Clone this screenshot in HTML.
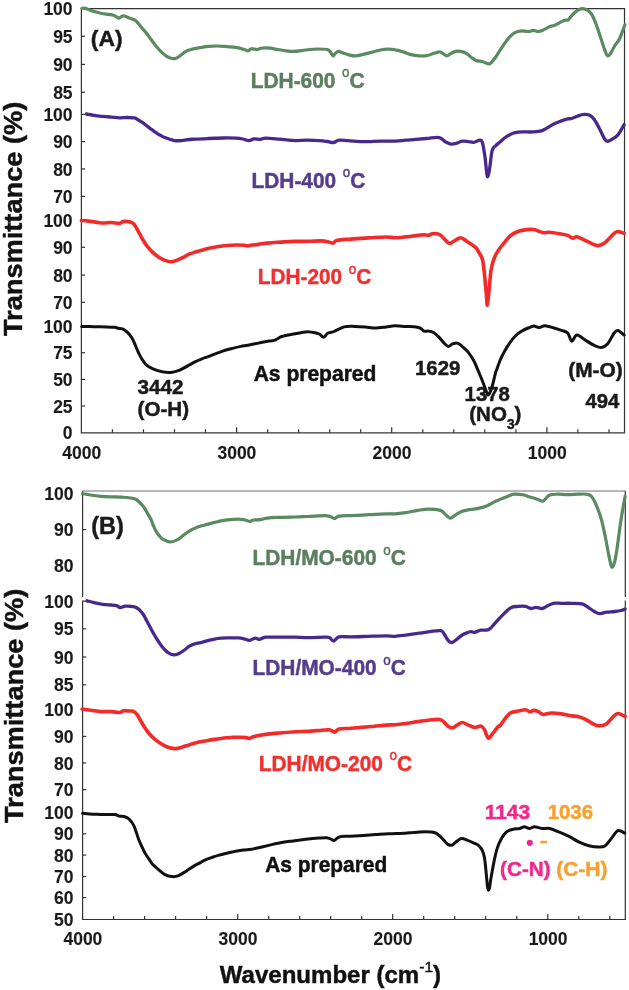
<!DOCTYPE html><html><head><meta charset="utf-8"><style>html,body{margin:0;padding:0;background:#fff;overflow:hidden;width:629px;height:990px;}svg{display:block;will-change:transform;}text{font-family:"Liberation Sans", sans-serif;font-weight:bold;stroke-width:0.45px;}.tl text{stroke-width:0.12px;}</style></head><body>
<svg width="629" height="990" viewBox="0 0 629 990">
<rect width="629" height="990" fill="#fff"/>
<g stroke="#333333" stroke-width="1.2" fill="none">
<line x1="81.4" y1="8.4" x2="81.4" y2="432.8"/>
<line x1="624.5" y1="8.4" x2="624.5" y2="432.8"/>
<line x1="80.8" y1="8.6" x2="625.1" y2="8.6"/>
<line x1="80.8" y1="432.8" x2="625.1" y2="432.8"/>
<line x1="81.4" y1="36.2" x2="85.0" y2="36.2"/>
<line x1="81.4" y1="64.4" x2="85.0" y2="64.4"/>
<line x1="81.4" y1="92.2" x2="85.0" y2="92.2"/>
<line x1="81.4" y1="114.4" x2="85.0" y2="114.4"/>
<line x1="81.4" y1="141.6" x2="85.0" y2="141.6"/>
<line x1="81.4" y1="168.9" x2="85.0" y2="168.9"/>
<line x1="81.4" y1="196.4" x2="85.0" y2="196.4"/>
<line x1="81.4" y1="220.6" x2="85.0" y2="220.6"/>
<line x1="81.4" y1="247.3" x2="85.0" y2="247.3"/>
<line x1="81.4" y1="275.1" x2="85.0" y2="275.1"/>
<line x1="81.4" y1="302.3" x2="85.0" y2="302.3"/>
<line x1="81.4" y1="326.2" x2="85.0" y2="326.2"/>
<line x1="81.4" y1="352.7" x2="85.0" y2="352.7"/>
<line x1="81.4" y1="379.4" x2="85.0" y2="379.4"/>
<line x1="81.4" y1="406.0" x2="85.0" y2="406.0"/>
<line x1="112.4" y1="432.8" x2="112.4" y2="429.2"/>
<line x1="143.5" y1="432.8" x2="143.5" y2="429.2"/>
<line x1="174.5" y1="432.8" x2="174.5" y2="429.2"/>
<line x1="205.5" y1="432.8" x2="205.5" y2="429.2"/>
<line x1="236.6" y1="432.8" x2="236.6" y2="427.2"/>
<line x1="267.6" y1="432.8" x2="267.6" y2="429.2"/>
<line x1="298.6" y1="432.8" x2="298.6" y2="429.2"/>
<line x1="329.7" y1="432.8" x2="329.7" y2="429.2"/>
<line x1="360.7" y1="432.8" x2="360.7" y2="429.2"/>
<line x1="391.7" y1="432.8" x2="391.7" y2="427.2"/>
<line x1="422.8" y1="432.8" x2="422.8" y2="429.2"/>
<line x1="453.8" y1="432.8" x2="453.8" y2="429.2"/>
<line x1="484.8" y1="432.8" x2="484.8" y2="429.2"/>
<line x1="515.9" y1="432.8" x2="515.9" y2="429.2"/>
<line x1="546.9" y1="432.8" x2="546.9" y2="427.2"/>
<line x1="577.9" y1="432.8" x2="577.9" y2="429.2"/>
<line x1="609.0" y1="432.8" x2="609.0" y2="429.2"/>
</g>
<g font-size="17.5" fill="#1a1a1a" stroke="#1a1a1a" text-anchor="end" class="tl">
<text x="72.6" y="15.0">100</text>
<text x="72.6" y="42.8">95</text>
<text x="72.6" y="71.0">90</text>
<text x="72.6" y="98.8">85</text>
<text x="72.6" y="121.0">100</text>
<text x="72.6" y="148.2">90</text>
<text x="72.6" y="175.5">80</text>
<text x="72.6" y="203.0">70</text>
<text x="72.6" y="227.2">100</text>
<text x="72.6" y="253.9">90</text>
<text x="72.6" y="281.7">80</text>
<text x="72.6" y="308.9">70</text>
<text x="72.6" y="332.8">100</text>
<text x="72.6" y="359.3">75</text>
<text x="72.6" y="386.0">50</text>
<text x="72.6" y="412.6">25</text>
<text x="72.6" y="439.3">0</text>
</g>
<g font-size="17.5" fill="#1a1a1a" stroke="#1a1a1a" text-anchor="middle" class="tl">
<text x="81.7" y="458.7">4000</text>
<text x="236.9" y="458.7">3000</text>
<text x="392.0" y="458.7">2000</text>
<text x="547.2" y="458.7">1000</text>
</g>
<g stroke="#333333" stroke-width="1.2" fill="none">
<line x1="82.6" y1="490.9" x2="82.6" y2="597.0"/>
<line x1="625.3" y1="490.9" x2="625.3" y2="597.0"/>
<line x1="82.6" y1="600.6" x2="82.6" y2="919.5"/>
<line x1="625.3" y1="600.6" x2="625.3" y2="919.5"/>
<line x1="82.0" y1="491.0" x2="625.9" y2="491.0" stroke="#707070"/>
<line x1="82.0" y1="919.5" x2="625.9" y2="919.5"/>
<line x1="82.6" y1="529.6" x2="86.2" y2="529.6"/>
<line x1="82.6" y1="601.2" x2="86.2" y2="601.2"/>
<line x1="82.6" y1="628.8" x2="86.2" y2="628.8"/>
<line x1="82.6" y1="657.0" x2="86.2" y2="657.0"/>
<line x1="82.6" y1="684.8" x2="86.2" y2="684.8"/>
<line x1="82.6" y1="709.2" x2="86.2" y2="709.2"/>
<line x1="82.6" y1="736.4" x2="86.2" y2="736.4"/>
<line x1="82.6" y1="763.0" x2="86.2" y2="763.0"/>
<line x1="82.6" y1="789.7" x2="86.2" y2="789.7"/>
<line x1="82.6" y1="812.7" x2="86.2" y2="812.7"/>
<line x1="82.6" y1="833.8" x2="86.2" y2="833.8"/>
<line x1="82.6" y1="855.1" x2="86.2" y2="855.1"/>
<line x1="82.6" y1="876.5" x2="86.2" y2="876.5"/>
<line x1="82.6" y1="897.6" x2="86.2" y2="897.6"/>
<line x1="113.6" y1="919.5" x2="113.6" y2="915.9"/>
<line x1="144.6" y1="919.5" x2="144.6" y2="915.9"/>
<line x1="175.6" y1="919.5" x2="175.6" y2="915.9"/>
<line x1="206.6" y1="919.5" x2="206.6" y2="915.9"/>
<line x1="237.7" y1="919.5" x2="237.7" y2="913.9"/>
<line x1="268.7" y1="919.5" x2="268.7" y2="915.9"/>
<line x1="299.7" y1="919.5" x2="299.7" y2="915.9"/>
<line x1="330.7" y1="919.5" x2="330.7" y2="915.9"/>
<line x1="361.7" y1="919.5" x2="361.7" y2="915.9"/>
<line x1="392.7" y1="919.5" x2="392.7" y2="913.9"/>
<line x1="423.7" y1="919.5" x2="423.7" y2="915.9"/>
<line x1="454.7" y1="919.5" x2="454.7" y2="915.9"/>
<line x1="485.7" y1="919.5" x2="485.7" y2="915.9"/>
<line x1="516.8" y1="919.5" x2="516.8" y2="915.9"/>
<line x1="547.8" y1="919.5" x2="547.8" y2="913.9"/>
<line x1="578.8" y1="919.5" x2="578.8" y2="915.9"/>
<line x1="609.8" y1="919.5" x2="609.8" y2="915.9"/>
</g>
<g font-size="17.5" fill="#1a1a1a" stroke="#1a1a1a" text-anchor="end" class="tl">
<text x="73.4" y="500.1">100</text>
<text x="73.4" y="536.2">90</text>
<text x="73.4" y="572.2">80</text>
<text x="73.4" y="607.8">100</text>
<text x="73.4" y="635.4">95</text>
<text x="73.4" y="663.6">90</text>
<text x="73.4" y="691.4">85</text>
<text x="73.4" y="715.8">100</text>
<text x="73.4" y="743.0">90</text>
<text x="73.4" y="769.6">80</text>
<text x="73.4" y="796.3">70</text>
<text x="73.4" y="819.3">100</text>
<text x="73.4" y="840.4">90</text>
<text x="73.4" y="861.7">80</text>
<text x="73.4" y="883.1">70</text>
<text x="73.4" y="904.2">60</text>
<text x="73.4" y="926.0">50</text>
</g>
<g font-size="17.5" fill="#1a1a1a" stroke="#1a1a1a" text-anchor="middle" class="tl">
<text x="82.9" y="944.9">4000</text>
<text x="238.0" y="944.9">3000</text>
<text x="393.0" y="944.9">2000</text>
<text x="548.1" y="944.9">1000</text>
</g>
<path d="M81.9 8.3 C82.5 8.3 84.0 7.9 85.7 8.4 C87.5 8.9 89.9 10.3 92.4 11.1 C95.0 11.9 98.3 12.8 101.0 13.3 C103.7 13.9 106.5 14.1 108.6 14.4 C110.7 14.7 112.1 14.8 113.4 15.2 C114.7 15.6 115.6 16.3 116.5 16.8 C117.4 17.3 118.0 18.2 118.8 18.2 C119.6 18.2 120.7 17.0 121.5 16.6 C122.3 16.2 122.5 15.7 123.8 15.9 C125.1 16.1 127.5 17.3 129.3 18.0 C131.2 18.7 133.5 19.3 134.9 20.1 C136.3 20.9 136.5 21.4 137.6 22.6 C138.7 23.8 140.2 26.0 141.5 27.5 C142.8 29.0 143.4 29.4 145.3 31.8 C147.2 34.2 150.9 39.3 152.9 42.0 C154.9 44.7 156.0 46.1 157.5 47.8 C159.0 49.5 160.2 50.9 161.8 52.4 C163.4 53.9 165.3 55.5 167.0 56.5 C168.7 57.5 170.5 58.2 172.0 58.5 C173.5 58.8 174.8 58.6 176.0 58.2 C177.2 57.8 178.2 57.1 179.5 56.2 C180.8 55.3 182.7 53.5 184.0 52.6 C185.3 51.7 186.0 51.2 187.2 50.7 C188.4 50.2 189.6 49.9 191.0 49.5 C192.4 49.1 193.9 48.8 195.7 48.4 C197.5 48.0 199.9 47.6 202.0 47.3 C204.1 46.9 206.0 46.5 208.4 46.3 C210.8 46.1 213.7 46.0 216.3 46.0 C219.0 46.0 221.4 46.1 224.3 46.3 C227.2 46.5 231.2 46.8 233.8 47.1 C236.5 47.4 238.3 47.8 240.2 48.2 C242.1 48.7 243.7 49.4 245.0 49.8 C246.3 50.2 247.0 51.0 248.1 50.8 C249.2 50.6 250.2 49.0 251.3 48.7 C252.4 48.4 253.4 49.1 254.5 49.2 C255.6 49.3 256.6 49.7 257.7 49.5 C258.8 49.3 259.6 48.5 260.9 48.2 C262.2 47.9 264.0 47.9 265.6 47.9 C267.2 47.9 268.3 47.9 270.4 48.2 C272.5 48.5 275.4 49.1 278.0 49.5 C280.6 49.9 283.2 50.5 285.9 50.8 C288.5 51.1 291.2 51.4 293.9 51.4 C296.5 51.4 299.1 50.9 301.8 50.6 C304.5 50.3 307.2 49.8 309.8 49.5 C312.4 49.2 314.8 49.0 317.7 49.0 C320.6 49.0 325.1 49.0 327.2 49.5 C329.3 50.0 329.4 50.8 330.4 51.9 C331.4 53.0 332.3 55.6 333.1 55.9 C333.9 56.2 334.3 54.2 335.2 53.5 C336.1 52.8 337.1 51.5 338.4 51.4 C339.7 51.3 341.2 52.4 343.1 53.0 C345.0 53.6 347.4 54.6 349.5 55.1 C351.6 55.6 353.8 56.0 355.9 55.9 C358.0 55.8 359.6 55.2 362.2 54.6 C364.8 54.0 368.5 53.1 371.4 52.4 C374.2 51.7 376.6 50.8 379.3 50.3 C382.0 49.8 384.7 49.3 387.3 49.2 C389.9 49.1 392.6 49.3 395.2 49.8 C397.8 50.2 400.5 51.1 403.2 51.9 C405.9 52.7 408.5 53.9 411.1 54.6 C413.8 55.3 416.5 55.7 419.1 55.9 C421.8 56.1 424.6 56.0 427.0 55.6 C429.4 55.2 431.3 54.1 433.4 53.5 C435.5 52.9 438.0 51.8 439.7 51.9 C441.4 52.0 442.5 53.3 443.7 54.0 C444.9 54.7 445.7 56.0 446.9 55.9 C448.1 55.8 449.4 54.2 450.9 53.5 C452.3 52.8 454.0 51.8 455.6 51.4 C457.2 51.0 458.6 51.1 460.4 51.4 C462.2 51.7 464.6 52.3 466.4 53.3 C468.2 54.3 469.5 56.0 471.1 57.2 C472.7 58.4 474.0 59.7 475.9 60.4 C477.8 61.1 480.7 61.1 482.3 61.5 C483.9 61.9 484.3 62.4 485.4 62.8 C486.4 63.2 487.8 63.8 488.6 63.9 C489.5 64.0 489.5 64.3 490.5 63.4 C491.5 62.5 493.3 60.3 494.8 58.3 C496.3 56.2 497.9 53.5 499.5 51.1 C501.1 48.7 502.7 46.1 504.3 43.9 C505.9 41.6 507.5 39.4 509.1 37.6 C510.7 35.8 512.5 34.2 513.9 33.2 C515.3 32.2 516.2 32.0 517.5 31.6 C518.8 31.2 520.0 30.8 521.8 30.8 C523.6 30.8 526.2 31.6 528.2 31.5 C530.2 31.4 531.8 30.4 533.5 30.4 C535.2 30.4 536.9 31.7 538.7 31.5 C540.5 31.3 542.3 30.3 544.3 29.4 C546.3 28.5 549.0 26.8 550.6 26.2 C552.2 25.6 552.4 26.2 554.2 25.5 C556.0 24.8 559.3 22.8 561.2 21.9 C563.1 21.0 564.3 20.5 565.5 20.1 C566.7 19.8 567.4 20.4 568.3 19.8 C569.2 19.2 569.9 17.6 571.1 16.3 C572.3 15.0 574.0 13.2 575.4 12.0 C576.8 10.8 578.2 9.7 579.6 9.2 C581.0 8.7 582.5 8.6 583.9 8.8 C585.3 9.0 586.7 9.5 588.1 10.6 C589.5 11.7 591.0 13.1 592.4 15.6 C593.8 18.1 595.2 21.7 596.6 25.5 C598.0 29.3 599.4 34.0 600.8 38.2 C602.2 42.4 604.0 48.0 605.1 50.9 C606.2 53.8 606.7 55.5 607.6 55.9 C608.5 56.3 609.6 54.9 610.8 53.1 C612.0 51.3 613.6 47.5 615.0 45.3 C616.4 43.0 617.9 42.1 619.2 39.6 C620.5 37.1 621.8 32.9 622.8 30.4 C623.8 27.9 624.5 25.7 624.9 24.8" fill="none" stroke="#5a8a60" stroke-width="3.2" stroke-linejoin="round" stroke-linecap="round"/>
<path d="M86.6 114.0 C87.8 114.2 91.3 115.0 94.0 115.4 C96.7 115.8 99.8 116.1 102.7 116.4 C105.6 116.7 108.7 116.9 111.5 117.1 C114.3 117.3 116.8 117.7 119.4 117.8 C122.0 117.9 124.7 117.5 127.2 117.5 C129.7 117.5 132.7 117.7 134.2 117.9 C135.7 118.1 135.0 117.9 136.4 118.7 C137.8 119.5 141.0 121.6 142.7 122.7 C144.3 123.8 145.1 124.6 146.3 125.5 C147.5 126.4 148.7 127.4 149.9 128.3 C151.2 129.2 152.5 130.2 153.8 131.1 C155.1 132.0 156.5 133.1 157.8 133.9 C159.1 134.7 160.5 135.4 161.8 136.1 C163.1 136.8 164.5 137.3 165.8 137.8 C167.1 138.3 168.3 138.7 169.7 139.2 C171.1 139.7 172.4 140.4 174.4 140.6 C176.4 140.8 179.0 140.8 181.4 140.6 C183.8 140.4 186.8 139.8 189.1 139.5 C191.4 139.2 192.3 139.3 195.5 139.1 C198.7 138.9 203.5 138.7 208.2 138.5 C212.8 138.3 218.8 138.1 223.4 138.0 C228.1 137.9 232.9 138.0 236.1 138.2 C239.3 138.4 240.6 138.6 242.7 139.0 C244.8 139.4 246.9 140.6 248.8 140.6 C250.7 140.6 252.2 139.0 254.1 138.8 C256.0 138.6 258.3 139.5 260.2 139.4 C262.1 139.3 262.9 138.2 265.5 138.1 C268.1 138.0 272.4 138.5 275.9 138.8 C279.4 139.1 283.2 139.6 286.4 139.9 C289.6 140.2 291.5 140.6 295.0 140.6 C298.5 140.6 303.4 140.2 307.5 140.2 C311.6 140.2 316.3 140.4 319.7 140.6 C323.1 140.8 325.3 141.2 327.6 141.5 C329.9 141.8 331.5 142.7 333.4 142.5 C335.3 142.3 336.6 140.5 339.0 140.2 C341.4 139.9 344.2 140.4 347.7 140.6 C351.2 140.8 356.5 141.4 360.0 141.6 C363.5 141.8 365.2 141.7 368.7 141.6 C372.2 141.5 376.5 141.2 380.9 141.1 C385.3 141.0 390.9 141.2 395.0 141.1 C399.1 140.9 402.0 140.5 405.5 140.2 C409.0 139.9 412.5 139.7 416.0 139.4 C419.5 139.1 423.0 138.8 426.5 138.5 C430.0 138.2 434.5 137.3 437.0 137.3 C439.5 137.3 439.9 137.7 441.3 138.5 C442.8 139.3 444.1 141.1 445.7 142.0 C447.3 142.9 449.2 143.9 451.0 144.1 C452.8 144.3 454.3 143.9 456.2 143.4 C458.1 142.9 460.2 141.4 462.3 141.1 C464.4 140.8 466.6 141.4 468.5 141.6 C470.4 141.8 471.8 142.5 473.7 142.3 C475.6 142.1 478.3 140.1 479.8 140.2 C481.3 140.3 481.6 140.0 482.5 142.9 C483.4 145.8 484.3 152.2 485.1 157.7 C485.9 163.2 486.5 174.0 487.2 176.1 C487.9 178.2 488.6 174.2 489.4 170.0 C490.2 165.8 491.1 154.7 492.1 150.7 C493.1 146.7 494.3 147.2 495.6 145.8 C496.9 144.4 498.2 143.5 500.0 142.0 C501.8 140.5 503.8 138.4 506.2 136.9 C508.6 135.4 511.7 133.7 514.4 132.8 C517.1 132.0 519.9 131.9 522.6 131.8 C525.3 131.7 527.9 132.1 530.8 132.0 C533.7 131.9 537.6 131.7 540.0 131.2 C542.4 130.7 542.9 130.3 545.1 129.1 C547.3 127.9 550.6 125.6 553.3 124.2 C556.0 122.8 559.1 121.8 561.5 120.9 C563.9 120.0 566.0 119.3 567.7 118.9 C569.4 118.5 570.1 119.0 571.8 118.5 C573.5 118.0 575.8 116.7 577.9 116.0 C580.0 115.3 582.0 114.5 584.1 114.4 C586.2 114.3 588.5 114.6 590.2 115.4 C591.9 116.2 592.8 117.3 594.3 119.5 C595.8 121.7 597.8 125.4 599.5 128.7 C601.2 131.9 603.2 136.9 604.6 139.0 C606.0 141.1 606.5 141.3 607.7 141.4 C608.9 141.5 610.1 140.5 611.8 139.4 C613.5 138.3 615.8 137.4 617.9 134.9 C620.0 132.4 623.1 126.3 624.1 124.6" fill="none" stroke="#48288c" stroke-width="3.3" stroke-linejoin="round" stroke-linecap="round"/>
<path d="M81.4 220.4 C82.6 220.5 86.3 220.8 88.7 221.1 C91.1 221.4 93.4 221.8 95.7 222.1 C98.0 222.4 100.1 222.9 102.7 223.0 C105.3 223.1 108.7 222.4 111.5 222.5 C114.3 222.6 117.5 223.6 119.4 223.4 C121.3 223.2 121.5 221.9 122.9 221.6 C124.3 221.3 126.3 221.3 128.0 221.6 C129.7 221.9 131.7 222.3 133.1 223.3 C134.5 224.3 135.2 226.0 136.3 227.7 C137.4 229.4 138.2 231.3 139.4 233.4 C140.6 235.5 142.0 238.3 143.3 240.4 C144.6 242.5 145.6 244.3 147.1 246.2 C148.6 248.1 150.3 250.1 152.2 251.9 C154.1 253.7 156.5 255.7 158.5 257.0 C160.5 258.4 161.9 259.2 164.0 260.0 C166.1 260.8 168.6 261.8 170.9 261.8 C173.2 261.8 175.5 260.7 177.6 259.9 C179.7 259.1 181.6 258.1 183.5 257.2 C185.4 256.2 187.1 255.1 189.1 254.2 C191.1 253.3 193.4 252.7 195.5 252.0 C197.6 251.3 199.7 250.9 201.8 250.3 C203.9 249.7 205.9 249.1 208.0 248.6 C210.1 248.1 212.3 247.6 214.5 247.2 C216.7 246.8 218.9 246.5 221.0 246.2 C223.1 245.9 224.7 245.7 227.2 245.5 C229.7 245.3 233.2 245.0 236.1 245.0 C239.0 245.0 242.5 245.1 244.5 245.3 C246.5 245.5 246.8 246.1 248.0 246.0 C249.2 245.9 249.8 245.3 251.5 245.0 C253.2 244.7 255.9 244.7 258.5 244.4 C261.1 244.1 264.0 243.4 267.2 243.1 C270.4 242.8 273.1 242.6 277.7 242.3 C282.3 242.0 290.6 241.6 295.0 241.4 C299.4 241.2 299.6 241.5 304.0 241.4 C308.4 241.3 317.6 240.9 321.5 240.9 C325.4 240.9 325.7 241.3 327.6 241.7 C329.5 242.1 331.3 243.3 332.9 243.1 C334.5 242.9 334.1 241.0 337.2 240.3 C340.2 239.6 345.9 239.5 351.2 239.1 C356.4 238.7 362.9 238.2 368.7 237.9 C374.5 237.6 381.8 237.0 386.2 237.0 C390.6 237.0 391.8 237.7 395.0 237.7 C398.2 237.7 402.0 237.2 405.5 236.9 C409.0 236.6 412.8 235.9 416.0 235.6 C419.2 235.2 422.7 234.9 424.7 234.8 C426.7 234.8 426.7 235.5 428.2 235.3 C429.7 235.1 431.6 233.6 433.5 233.5 C435.4 233.4 437.9 233.8 439.6 234.6 C441.4 235.4 442.4 237.1 444.0 238.6 C445.6 240.1 447.4 242.9 449.2 243.3 C450.9 243.7 452.6 241.8 454.5 240.9 C456.4 240.0 458.6 237.6 460.6 237.7 C462.6 237.8 464.2 239.6 466.7 241.2 C469.2 242.8 473.4 245.5 475.5 247.4 C477.6 249.3 477.8 250.6 479.0 252.6 C480.2 254.6 481.6 256.0 482.5 259.6 C483.4 263.2 483.9 268.8 484.5 274.5 C485.1 280.2 485.8 288.6 486.3 293.7 C486.8 298.8 486.9 305.4 487.3 305.1 C487.7 304.8 488.2 298.0 488.9 292.0 C489.5 286.0 490.2 275.0 491.2 269.2 C492.2 263.4 493.2 260.5 494.7 257.0 C496.1 253.5 498.3 250.5 499.9 248.2 C501.5 245.8 502.4 245.0 504.1 242.9 C505.8 240.8 507.9 237.7 510.3 235.8 C512.7 233.9 515.8 232.3 518.5 231.3 C521.2 230.3 524.2 229.9 526.7 229.6 C529.2 229.3 531.1 229.1 533.8 229.6 C536.5 230.1 540.5 232.2 543.1 232.7 C545.7 233.1 546.5 232.1 549.2 232.3 C551.9 232.5 556.4 233.2 559.5 233.7 C562.6 234.2 565.5 234.7 567.7 235.4 C569.9 236.2 571.3 238.0 572.8 238.2 C574.3 238.4 574.7 236.4 576.9 236.8 C579.1 237.2 582.7 239.4 586.1 240.9 C589.5 242.4 594.3 245.3 597.4 245.6 C600.5 245.9 602.2 244.5 604.6 242.9 C607.0 241.3 609.8 237.7 611.8 235.8 C613.8 233.9 614.8 232.1 616.9 231.7 C619.0 231.3 622.9 233.0 624.1 233.3" fill="none" stroke="#f22a2a" stroke-width="3.6" stroke-linejoin="round" stroke-linecap="round"/>
<path d="M81.7 326.4 C83.8 326.4 89.9 326.6 94.0 326.7 C98.1 326.8 102.7 326.8 106.2 326.9 C109.7 327.0 113.0 327.1 115.0 327.3 C117.0 327.5 116.8 328.1 118.0 328.3 C119.2 328.6 120.9 328.1 122.5 328.8 C124.1 329.5 125.9 330.8 127.5 332.3 C129.1 333.8 130.7 335.9 132.0 338.0 C133.3 340.1 134.1 342.5 135.2 344.9 C136.3 347.3 137.2 350.1 138.4 352.5 C139.6 354.9 140.8 357.4 142.2 359.5 C143.6 361.6 144.8 363.6 146.6 365.2 C148.4 366.8 150.4 367.8 153.0 368.9 C155.6 370.0 159.2 371.2 162.2 371.8 C165.2 372.4 168.0 372.7 170.9 372.4 C173.8 372.1 176.5 371.4 179.7 370.1 C182.9 368.8 187.4 366.0 190.0 364.6 C192.6 363.2 193.4 362.7 195.4 361.7 C197.4 360.7 199.9 359.6 202.0 358.8 C204.1 358.0 206.1 357.4 208.2 356.6 C210.3 355.8 212.4 354.9 214.5 354.1 C216.6 353.3 218.8 352.5 220.9 351.8 C223.0 351.1 224.9 350.4 227.0 349.8 C229.1 349.2 231.3 348.7 233.6 348.1 C235.9 347.5 238.6 346.9 241.0 346.4 C243.4 345.9 245.1 345.8 248.0 345.2 C250.9 344.6 255.0 343.8 258.5 343.1 C262.0 342.4 266.4 341.4 269.0 341.0 C271.6 340.6 272.9 340.7 274.2 340.4 C275.5 340.1 275.7 339.6 277.0 339.0 C278.3 338.4 279.5 337.2 281.8 336.5 C284.1 335.8 287.5 335.2 290.7 334.6 C293.9 334.0 298.0 333.2 300.9 332.7 C303.8 332.2 305.4 331.6 307.9 331.7 C310.4 331.8 314.2 332.6 316.1 333.0 C318.0 333.4 318.0 333.3 319.3 334.0 C320.6 334.7 322.4 337.3 323.8 337.2 C325.2 337.1 326.0 334.1 327.6 333.2 C329.2 332.3 330.9 332.7 333.7 331.6 C336.5 330.6 340.7 327.8 344.2 326.9 C347.7 326.0 351.2 326.4 354.7 326.4 C358.2 326.4 361.7 326.6 365.2 326.9 C368.7 327.2 372.2 328.1 375.7 328.1 C379.2 328.1 383.0 327.3 386.2 326.9 C389.4 326.5 391.8 325.9 395.0 325.8 C398.2 325.7 402.0 326.2 405.5 326.4 C409.0 326.6 413.5 326.6 416.0 326.9 C418.5 327.2 419.1 327.4 420.4 328.1 C421.7 328.8 422.6 330.6 423.9 331.1 C425.2 331.6 426.6 330.9 428.2 331.1 C429.8 331.3 431.8 331.5 433.5 332.5 C435.2 333.5 436.9 335.1 438.7 336.9 C440.4 338.6 442.4 341.4 444.0 343.0 C445.6 344.6 446.9 346.4 448.3 346.5 C449.8 346.6 451.1 344.4 452.7 343.9 C454.3 343.4 456.2 342.7 458.0 343.3 C459.8 343.9 461.4 345.8 463.2 347.4 C464.9 348.9 466.8 350.4 468.5 352.6 C470.2 354.8 471.9 357.1 473.7 360.5 C475.4 363.9 477.4 368.9 479.0 372.7 C480.6 376.5 482.0 379.8 483.3 383.2 C484.6 386.6 485.9 390.9 486.8 392.8 C487.7 394.7 487.7 395.6 488.6 394.6 C489.5 393.6 490.9 390.4 492.1 386.7 C493.3 383.0 494.8 375.4 495.6 372.5 C496.4 369.6 496.0 371.4 496.8 369.3 C497.6 367.2 499.1 362.7 500.3 359.8 C501.6 356.9 502.8 354.5 504.3 351.8 C505.8 349.1 507.4 346.4 509.1 343.9 C510.8 341.4 512.5 338.8 514.6 336.7 C516.7 334.6 519.5 332.6 521.8 331.1 C524.1 329.7 526.2 328.8 528.2 328.0 C530.2 327.2 532.2 326.3 533.7 326.1 C535.2 325.9 536.0 326.8 537.0 327.0 C538.0 327.2 538.6 327.6 540.0 327.4 C541.4 327.2 542.9 325.6 545.1 325.7 C547.3 325.8 550.6 326.9 553.3 327.7 C556.0 328.5 559.1 329.5 561.5 330.4 C563.9 331.3 566.0 331.2 567.7 333.0 C569.4 334.8 570.3 340.8 571.8 341.2 C573.3 341.6 574.5 335.2 576.9 335.1 C579.3 335.0 583.2 338.9 586.1 340.6 C589.0 342.3 591.7 344.3 594.3 345.4 C596.9 346.5 599.3 347.7 601.5 347.4 C603.7 347.1 605.7 346.0 607.7 343.7 C609.8 341.4 612.1 335.7 613.8 333.5 C615.5 331.3 616.2 330.1 617.9 330.4 C619.6 330.7 623.1 334.3 624.1 335.1" fill="none" stroke="#111111" stroke-width="3.0" stroke-linejoin="round" stroke-linecap="round"/>
<path d="M82.6 493.7 C83.9 493.9 87.4 494.6 90.5 495.0 C93.6 495.4 97.5 496.1 101.0 496.4 C104.5 496.7 108.0 496.8 111.5 496.9 C115.0 497.0 118.2 496.9 122.0 497.2 C125.8 497.5 131.5 497.9 134.4 498.7 C137.3 499.5 137.8 500.8 139.4 502.2 C141.0 503.6 142.5 505.4 143.9 507.3 C145.3 509.2 146.5 511.6 147.7 513.6 C148.9 515.6 149.9 517.3 150.9 519.3 C151.9 521.3 152.5 523.6 153.4 525.7 C154.3 527.8 155.3 530.1 156.6 532.1 C157.9 534.1 159.7 536.4 161.1 537.8 C162.5 539.2 163.4 539.6 165.0 540.3 C166.6 541.0 168.8 542.1 170.9 542.0 C173.0 541.9 175.8 540.5 177.6 539.6 C179.4 538.7 180.5 537.5 182.0 536.4 C183.5 535.3 185.0 534.0 186.5 533.0 C188.0 532.0 189.5 531.1 191.0 530.2 C192.5 529.4 193.6 528.6 195.4 527.9 C197.2 527.2 199.7 526.4 201.8 525.8 C203.9 525.2 206.1 524.7 208.2 524.1 C210.3 523.5 212.4 522.9 214.5 522.4 C216.6 521.9 218.8 521.3 220.9 520.9 C223.0 520.5 225.1 520.2 227.2 519.9 C229.3 519.6 231.3 519.4 233.6 519.3 C235.9 519.2 239.1 519.1 241.2 519.3 C243.3 519.4 244.8 519.8 246.2 520.2 C247.6 520.6 248.5 521.5 249.7 521.5 C250.9 521.5 251.4 520.3 253.2 520.0 C254.9 519.7 257.9 519.9 260.2 519.6 C262.5 519.3 264.3 518.6 267.2 518.2 C270.1 517.8 273.1 517.6 277.7 517.4 C282.3 517.2 290.0 517.1 295.0 517.0 C300.0 516.9 302.5 516.7 307.5 516.5 C312.5 516.3 321.2 515.6 325.0 515.6 C328.8 515.6 328.6 516.0 330.2 516.5 C331.8 517.0 333.1 518.7 334.6 518.6 C336.1 518.5 336.2 516.6 339.0 516.1 C341.8 515.6 346.2 515.8 351.2 515.6 C356.1 515.4 362.9 515.0 368.7 514.7 C374.5 514.4 381.8 514.0 386.2 513.9 C390.6 513.8 391.8 514.1 395.0 513.9 C398.2 513.7 401.7 513.2 405.5 512.6 C409.3 512.0 413.9 511.0 417.7 510.4 C421.5 509.8 424.4 509.1 428.2 509.1 C432.0 509.1 437.6 509.5 440.5 510.4 C443.4 511.3 444.1 513.4 445.7 514.7 C447.3 516.0 448.6 518.1 450.1 518.2 C451.6 518.4 452.6 516.7 454.5 515.6 C456.4 514.5 458.9 512.6 461.5 511.6 C464.1 510.6 467.6 510.0 470.2 509.5 C472.8 509.0 474.6 509.1 477.2 508.6 C479.8 508.1 483.0 507.5 485.9 506.3 C488.8 505.1 492.3 502.8 494.7 501.6 C497.1 500.5 498.1 500.2 500.0 499.4 C501.9 498.6 503.8 497.8 506.2 496.9 C508.6 496.0 511.7 494.5 514.4 494.2 C517.1 493.9 519.9 494.3 522.6 494.8 C525.3 495.3 528.2 496.5 530.8 497.3 C533.3 498.1 535.8 498.8 537.9 499.4 C540.0 500.0 541.2 501.7 543.1 501.0 C545.0 500.3 546.8 496.4 549.2 495.3 C551.6 494.2 554.3 494.3 557.4 494.2 C560.5 494.1 564.3 494.6 567.7 494.6 C571.1 494.6 574.8 494.3 577.9 494.2 C581.0 494.1 583.9 493.8 586.1 494.2 C588.3 494.6 589.6 494.4 591.3 496.3 C593.0 498.2 594.7 501.6 596.4 505.5 C598.1 509.4 600.0 514.4 601.5 519.9 C603.0 525.4 604.4 532.5 605.6 538.3 C606.8 544.1 607.7 549.9 608.7 554.7 C609.7 559.5 610.8 566.0 611.8 567.0 C612.8 568.0 613.9 565.0 614.9 560.9 C615.9 556.8 616.9 549.2 617.9 542.4 C618.9 535.6 619.8 527.6 621.0 519.9 C622.2 512.2 624.4 500.2 625.1 496.3" fill="none" stroke="#5a8a60" stroke-width="3.2" stroke-linejoin="round" stroke-linecap="round"/>
<path d="M87.0 600.8 C88.2 601.1 91.4 602.0 94.0 602.6 C96.6 603.2 99.8 603.9 102.7 604.3 C105.6 604.7 109.2 604.8 111.5 605.0 C113.8 605.2 115.2 605.3 116.7 605.7 C118.2 606.1 118.7 607.4 120.2 607.5 C121.7 607.6 123.1 606.2 125.5 606.1 C127.9 606.0 132.2 606.3 134.4 606.8 C136.6 607.3 137.3 607.9 138.8 609.2 C140.3 610.5 141.9 612.5 143.3 614.5 C144.7 616.5 145.7 619.0 147.1 621.5 C148.5 624.0 149.9 626.9 151.5 629.8 C153.1 632.7 154.8 635.8 156.6 638.7 C158.4 641.6 160.4 644.7 162.3 647.0 C164.2 649.3 166.1 651.4 168.0 652.7 C169.9 654.0 171.8 654.8 173.6 654.9 C175.4 655.0 177.2 654.3 179.0 653.5 C180.8 652.7 182.8 651.2 184.5 650.0 C186.2 648.8 187.3 647.3 189.1 646.3 C190.8 645.3 192.9 644.5 195.0 643.8 C197.1 643.1 199.6 642.8 201.8 642.3 C204.0 641.8 205.9 641.1 208.0 640.6 C210.1 640.1 212.3 639.5 214.5 639.1 C216.7 638.7 218.9 638.4 221.0 638.2 C223.1 638.0 224.2 637.8 227.2 637.8 C230.1 637.8 235.9 637.7 238.7 637.9 C241.5 638.1 242.2 638.4 244.0 638.8 C245.8 639.2 247.9 640.5 249.7 640.4 C251.5 640.3 253.4 638.3 255.0 638.1 C256.6 637.9 257.6 639.4 259.3 639.3 C261.1 639.1 262.4 637.6 265.5 637.2 C268.6 636.9 272.8 637.2 277.7 637.2 C282.6 637.2 290.0 637.1 295.0 637.2 C300.0 637.3 302.5 637.6 307.5 637.6 C312.5 637.6 321.4 637.2 325.0 637.2 C328.6 637.2 327.9 637.0 329.4 637.6 C330.8 638.2 332.1 641.2 333.7 641.1 C335.3 641.0 336.1 637.6 339.0 636.9 C341.9 636.2 346.2 637.0 351.2 636.9 C356.1 636.8 362.9 636.5 368.7 636.3 C374.5 636.1 381.8 635.8 386.2 635.8 C390.6 635.8 391.8 636.4 395.0 636.3 C398.2 636.2 401.7 635.6 405.5 635.1 C409.3 634.6 413.6 634.0 417.7 633.4 C421.8 632.8 426.1 632.1 430.0 631.6 C433.9 631.1 438.5 630.2 440.8 630.6 C443.1 631.0 442.8 632.0 444.0 633.7 C445.2 635.4 447.0 639.2 448.3 640.7 C449.6 642.2 450.5 642.6 451.8 642.5 C453.1 642.4 454.6 641.0 456.2 639.8 C457.8 638.6 459.8 636.6 461.5 635.5 C463.2 634.4 465.1 633.5 466.7 632.9 C468.3 632.2 469.8 631.7 471.1 631.6 C472.4 631.5 473.0 632.5 474.6 632.3 C476.2 632.1 478.5 630.6 480.7 630.2 C482.9 629.8 485.9 630.3 487.7 629.9 C489.4 629.5 489.4 629.3 491.2 627.6 C492.9 625.9 495.9 622.2 498.2 619.7 C500.5 617.2 502.9 614.7 505.1 612.6 C507.3 610.5 509.1 608.4 511.3 607.4 C513.5 606.4 516.1 606.6 518.5 606.4 C520.9 606.2 523.6 606.0 525.6 606.4 C527.6 606.8 529.1 608.3 530.8 608.5 C532.5 608.7 534.0 607.4 535.9 607.4 C537.8 607.4 540.1 608.7 542.0 608.5 C543.9 608.3 545.3 606.9 547.2 606.0 C549.1 605.1 550.9 603.8 553.3 603.3 C555.7 602.8 558.4 603.3 561.5 603.3 C564.6 603.3 568.4 603.2 571.8 603.3 C575.2 603.4 579.3 603.2 582.0 603.9 C584.7 604.6 586.2 606.1 588.2 607.4 C590.2 608.7 592.4 610.5 594.3 611.5 C596.2 612.5 597.4 613.5 599.5 613.6 C601.6 613.7 604.1 612.6 606.7 612.2 C609.3 611.9 612.5 611.8 614.9 611.5 C617.3 611.2 619.3 610.9 621.0 610.5 C622.7 610.1 624.4 609.2 625.1 608.9" fill="none" stroke="#48288c" stroke-width="3.3" stroke-linejoin="round" stroke-linecap="round"/>
<path d="M82.1 709.0 C83.5 709.2 87.3 709.8 90.5 710.2 C93.7 710.6 97.5 711.4 101.0 711.6 C104.5 711.8 108.4 711.5 111.5 711.6 C114.6 711.8 117.4 712.6 119.4 712.5 C121.4 712.4 122.3 711.0 123.7 710.7 C125.1 710.5 126.3 710.9 128.0 711.0 C129.7 711.1 132.1 710.6 133.7 711.3 C135.3 712.0 136.3 713.5 137.5 715.1 C138.7 716.7 139.5 718.8 140.7 720.8 C141.9 722.8 143.1 725.1 144.5 727.2 C145.9 729.3 147.3 731.5 149.0 733.5 C150.7 735.5 152.7 737.5 154.7 739.2 C156.7 740.9 158.9 742.4 161.1 743.7 C163.3 745.1 165.8 746.5 168.0 747.3 C170.2 748.1 172.6 748.5 174.4 748.6 C176.2 748.7 177.6 748.3 179.0 748.0 C180.4 747.7 181.0 747.4 182.7 746.9 C184.4 746.4 186.9 745.5 189.0 744.9 C191.1 744.2 193.3 743.5 195.4 743.0 C197.5 742.5 199.7 742.0 201.8 741.6 C203.9 741.2 206.1 740.8 208.2 740.4 C210.3 740.0 212.4 739.7 214.5 739.4 C216.6 739.1 218.8 738.8 220.9 738.5 C223.0 738.2 224.9 738.0 227.0 737.8 C229.1 737.6 231.3 737.4 233.6 737.3 C235.9 737.2 238.9 737.2 241.0 737.2 C243.1 737.2 245.0 737.4 246.3 737.6 C247.6 737.8 247.6 738.6 249.0 738.4 C250.4 738.2 252.2 737.0 255.0 736.3 C257.8 735.6 261.7 734.9 265.5 734.4 C269.3 733.9 272.8 733.5 277.7 733.1 C282.6 732.7 290.0 732.0 295.0 731.7 C300.0 731.4 302.5 731.7 307.5 731.4 C312.5 731.1 321.2 730.2 325.0 730.0 C328.8 729.8 328.6 729.6 330.2 730.0 C331.8 730.4 333.1 732.2 334.6 732.1 C336.1 732.0 336.2 729.8 339.0 729.1 C341.8 728.5 346.2 728.6 351.2 728.2 C356.1 727.8 362.9 727.3 368.7 726.8 C374.5 726.3 381.8 725.5 386.2 725.1 C390.6 724.8 391.8 725.0 395.0 724.7 C398.2 724.4 401.7 724.0 405.5 723.5 C409.3 723.0 413.6 722.2 417.7 721.6 C421.8 721.0 426.4 720.4 430.0 720.0 C433.6 719.6 437.3 719.1 439.6 719.5 C441.9 719.9 442.6 720.9 444.0 722.1 C445.4 723.3 446.9 725.5 448.3 726.5 C449.8 727.5 451.2 728.1 452.7 727.9 C454.2 727.7 455.5 726.0 457.1 725.1 C458.7 724.2 460.4 722.5 462.3 722.5 C464.2 722.5 466.4 724.3 468.5 725.1 C470.6 725.9 472.6 727.2 474.6 727.4 C476.6 727.6 479.1 725.8 480.7 726.1 C482.3 726.4 483.3 727.7 484.2 729.1 C485.1 730.5 485.6 732.9 486.3 734.4 C487.0 735.9 487.6 738.4 488.6 738.4 C489.6 738.4 490.5 736.4 492.1 734.4 C493.7 732.4 496.9 727.9 498.2 726.5 C499.5 725.1 498.9 727.1 500.0 725.8 C501.1 724.5 503.4 720.7 505.1 718.6 C506.8 716.5 508.1 714.3 510.3 713.0 C512.5 711.7 516.0 711.5 518.5 711.0 C521.0 710.5 523.7 709.7 525.6 709.8 C527.5 709.9 528.3 711.7 529.7 711.8 C531.1 711.9 532.4 710.5 533.8 710.4 C535.2 710.3 536.3 710.7 537.9 711.4 C539.5 712.1 540.9 714.2 543.1 714.5 C545.3 714.8 548.2 713.1 551.3 713.0 C554.4 712.9 558.1 713.4 561.5 713.9 C564.9 714.4 569.1 715.5 571.8 715.9 C574.5 716.3 575.5 715.9 577.9 716.5 C580.3 717.1 583.4 718.2 586.1 719.6 C588.8 721.0 591.9 723.7 594.3 724.7 C596.7 725.7 598.4 726.0 600.5 725.8 C602.6 725.6 604.7 725.1 606.7 723.7 C608.8 722.3 610.9 718.9 612.8 717.2 C614.7 715.5 615.8 713.6 617.9 713.5 C620.0 713.4 623.9 716.0 625.1 716.5" fill="none" stroke="#f22a2a" stroke-width="3.6" stroke-linejoin="round" stroke-linecap="round"/>
<path d="M82.6 813.3 C83.8 813.4 86.8 813.8 89.5 814.0 C92.2 814.2 95.9 814.3 99.1 814.4 C102.3 814.5 105.9 814.5 108.6 814.5 C111.3 814.5 113.5 814.3 115.3 814.6 C117.0 814.9 117.7 815.8 119.1 816.1 C120.5 816.4 122.8 816.3 123.9 816.5 C125.1 816.7 125.3 817.0 126.0 817.3 C126.7 817.6 127.5 817.9 128.2 818.4 C128.9 818.9 129.2 819.0 130.1 820.1 C131.0 821.2 132.6 823.2 133.6 825.1 C134.6 827.0 135.3 829.4 136.1 831.7 C136.9 834.1 137.7 836.8 138.6 839.2 C139.5 841.6 140.6 843.9 141.7 846.3 C142.8 848.7 143.9 851.2 145.2 853.4 C146.4 855.6 148.0 857.6 149.2 859.4 C150.4 861.2 150.8 862.4 152.3 864.0 C153.8 865.6 156.2 867.6 158.2 869.3 C160.2 871.0 162.2 873.1 164.5 874.3 C166.8 875.5 169.9 876.4 172.2 876.6 C174.5 876.8 176.2 876.5 178.5 875.6 C180.8 874.7 183.5 872.8 186.1 871.2 C188.7 869.6 191.5 867.5 193.8 866.1 C196.1 864.7 198.1 864.0 200.0 862.9 C201.9 861.8 203.4 860.7 205.4 859.8 C207.4 858.9 209.9 858.1 212.0 857.4 C214.1 856.7 216.1 856.0 218.2 855.4 C220.3 854.8 222.4 854.2 224.5 853.7 C226.6 853.2 228.8 852.7 230.9 852.2 C233.0 851.8 234.9 851.4 237.0 851.0 C239.1 850.6 241.2 850.3 243.6 850.0 C246.0 849.7 249.3 849.5 251.2 849.2 C253.1 849.0 252.2 849.1 255.0 848.5 C257.8 847.9 263.5 846.6 267.7 845.6 C271.9 844.6 276.1 843.6 280.4 842.8 C284.6 842.0 288.9 841.5 293.2 840.9 C297.4 840.3 301.7 839.7 305.9 839.2 C310.1 838.7 315.2 838.2 318.6 838.0 C322.0 837.8 324.3 837.6 326.2 837.7 C328.1 837.8 328.8 838.2 330.1 838.6 C331.4 839.0 332.6 840.5 333.9 840.4 C335.2 840.3 336.4 838.4 337.7 837.8 C339.0 837.1 339.4 836.8 341.5 836.5 C343.6 836.2 346.8 836.5 350.4 836.3 C354.0 836.1 358.9 835.8 363.2 835.5 C367.4 835.2 371.7 834.9 375.9 834.6 C380.1 834.3 383.8 833.9 388.6 833.7 C393.5 833.5 400.9 833.4 405.0 833.2 C409.1 833.0 410.1 832.7 413.5 832.5 C416.9 832.3 422.2 831.8 425.7 831.8 C429.2 831.8 432.1 831.8 434.4 832.5 C436.7 833.2 438.1 834.7 439.7 836.0 C441.3 837.3 442.6 839.0 444.0 840.4 C445.4 841.8 446.7 843.6 448.0 844.4 C449.3 845.2 450.6 845.6 451.9 845.2 C453.2 844.8 454.3 843.1 455.9 842.0 C457.5 840.9 459.6 838.8 461.5 838.5 C463.4 838.2 465.0 839.4 467.0 840.1 C469.0 840.8 471.5 841.9 473.4 842.8 C475.3 843.6 476.8 844.0 478.2 845.2 C479.6 846.4 481.1 847.9 482.1 850.0 C483.2 852.1 483.8 854.2 484.5 857.9 C485.2 861.6 485.6 867.2 486.1 872.2 C486.6 877.2 487.2 885.3 487.7 888.1 C488.2 890.9 488.8 890.5 489.3 888.9 C489.8 887.3 490.1 883.2 490.9 878.6 C491.7 874.0 493.1 866.1 494.1 861.1 C495.2 856.1 496.0 852.1 497.2 848.4 C498.4 844.7 499.6 841.7 501.2 838.9 C502.8 836.1 504.8 833.3 506.8 831.7 C508.8 830.1 511.0 829.8 513.1 829.3 C515.2 828.8 517.6 828.9 519.5 828.5 C521.4 828.1 522.8 826.8 524.4 826.8 C526.0 826.8 527.7 828.5 529.4 828.5 C531.1 828.5 532.4 826.8 534.5 826.8 C536.6 826.8 539.5 828.2 542.0 828.5 C544.5 828.8 546.9 828.0 549.6 828.5 C552.4 829.0 555.3 830.5 558.5 831.8 C561.7 833.1 565.2 834.4 568.6 836.1 C572.0 837.8 575.3 840.3 578.7 841.9 C582.1 843.5 585.4 844.9 588.8 845.7 C592.2 846.6 596.2 847.0 598.9 847.0 C601.6 847.0 603.1 847.2 605.2 845.7 C607.3 844.2 609.5 840.6 611.6 838.1 C613.7 835.6 615.7 831.4 617.9 830.6 C620.1 829.8 623.6 832.7 624.7 833.1" fill="none" stroke="#111111" stroke-width="3.0" stroke-linejoin="round" stroke-linecap="round"/>
<text transform="translate(21.8 336.0) rotate(-90)" font-size="26.5" fill="#111" stroke="#111" textLength="234.3" lengthAdjust="spacingAndGlyphs">Transmittance (%)</text>
<text transform="translate(23.2 823.0) rotate(-90)" font-size="26.5" fill="#111" stroke="#111" textLength="234.3" lengthAdjust="spacingAndGlyphs">Transmittance (%)</text>
<text transform="translate(90.87 46.40) scale(1.0310 1.000)" font-size="22.2" fill="#1a1a1a" stroke="#1a1a1a">(A)</text>
<text transform="translate(91.18 534.00) scale(1.0233 1.000)" font-size="23" fill="#1a1a1a" stroke="#1a1a1a">(B)</text>
<text transform="translate(250.65 87.50) scale(0.9965 1.050)" font-size="21" fill="#5a7e5e" stroke="#5a7e5e">LDH-600 <tspan font-size="13.5" font-weight="normal" dx="0.8" dy="-9.6">o</tspan><tspan dy="9.6">C</tspan></text>
<text transform="translate(251.46 187.50) scale(0.9956 1.050)" font-size="21" fill="#553d8a" stroke="#553d8a">LDH-400 <tspan font-size="13.5" font-weight="normal" dx="0.8" dy="-9.6">o</tspan><tspan dy="9.6">C</tspan></text>
<text transform="translate(257.86 283.90) scale(0.9903 1.050)" font-size="21" fill="#f03030" stroke="#f03030">LDH-200 <tspan font-size="13.5" font-weight="normal" dx="0.8" dy="-9.6">o</tspan><tspan dy="9.6">C</tspan></text>
<text transform="translate(252.46 564.60) scale(0.9948 1.050)" font-size="21" fill="#5a7e5e" stroke="#5a7e5e">LDH/MO-600 <tspan font-size="13.5" font-weight="normal" dx="0.8" dy="-9.6">o</tspan><tspan dy="9.6">C</tspan></text>
<text transform="translate(252.46 674.90) scale(0.9948 1.050)" font-size="21" fill="#553d8a" stroke="#553d8a">LDH/MO-400 <tspan font-size="13.5" font-weight="normal" dx="0.8" dy="-9.6">o</tspan><tspan dy="9.6">C</tspan></text>
<text transform="translate(258.76 770.50) scale(0.9948 1.050)" font-size="21" fill="#f03030" stroke="#f03030">LDH/MO-200 <tspan font-size="13.5" font-weight="normal" dx="0.8" dy="-9.6">o</tspan><tspan dy="9.6">C</tspan></text>
<text transform="translate(253.64 380.60) scale(1.0368 1.050)" font-size="20.3" fill="#111" stroke="#111">As prepared</text>
<text transform="translate(265.24 872.40) scale(1.0299 1.050)" font-size="20.3" fill="#111" stroke="#111">As prepared</text>
<text transform="translate(137.55 394.40) scale(1.0192 1.040)" font-size="20.3" fill="#1a1a1a" stroke="#1a1a1a">3442</text>
<text transform="translate(137.54 416.10) scale(1.0173 1.040)" font-size="20.3" fill="#1a1a1a" stroke="#1a1a1a">(O-H)</text>
<text transform="translate(415.00 374.60) scale(1.0046 1.040)" font-size="20.3" fill="#1a1a1a" stroke="#1a1a1a">1629</text>
<text transform="translate(464.60 401.20) scale(1.0034 1.040)" font-size="20.3" fill="#1a1a1a" stroke="#1a1a1a">1378</text>
<text transform="translate(469.24 421.40) scale(1.0140 1.040)" font-size="20.3" fill="#1a1a1a" stroke="#1a1a1a">(NO<tspan font-size="13.5" dy="7.2">3</tspan><tspan dy="-7.2">)</tspan></text>
<text transform="translate(568.23 377.20) scale(1.0291 1.040)" font-size="20.3" fill="#1a1a1a" stroke="#1a1a1a">(M-O)</text>
<text transform="translate(585.50 408.00) scale(1.0000 1.040)" font-size="20.3" fill="#1a1a1a" stroke="#1a1a1a">494</text>
<text transform="translate(484.65 818.60) scale(1.0515 1.040)" font-size="20" fill="#f0288c" stroke="#f0288c">1143</text>
<text transform="translate(547.68 819.00) scale(1.0209 1.040)" font-size="20" fill="#f7a030" stroke="#f7a030">1036</text>
<text transform="translate(500.12 876.40) scale(1.0349 1.040)" font-size="20" fill="#f0288c" stroke="#f0288c">(C-N)</text>
<text transform="translate(556.21 876.40) scale(1.0497 1.040)" font-size="20" fill="#f7a030" stroke="#f7a030">(C-H)</text>
<text transform="translate(219.75 983.40) scale(1.0020 1.000)" font-size="24" fill="#111" stroke="#111">Wavenumber (cm<tspan font-size="15.5" font-weight="normal" dy="-11">-1</tspan><tspan dy="11">)</tspan></text>
<circle cx="529.8" cy="842.8" r="3.1" fill="#f0288c"/>
<rect x="540.3" y="840.8" width="6.8" height="2.6" fill="#f7a030"/>
</svg></body></html>
